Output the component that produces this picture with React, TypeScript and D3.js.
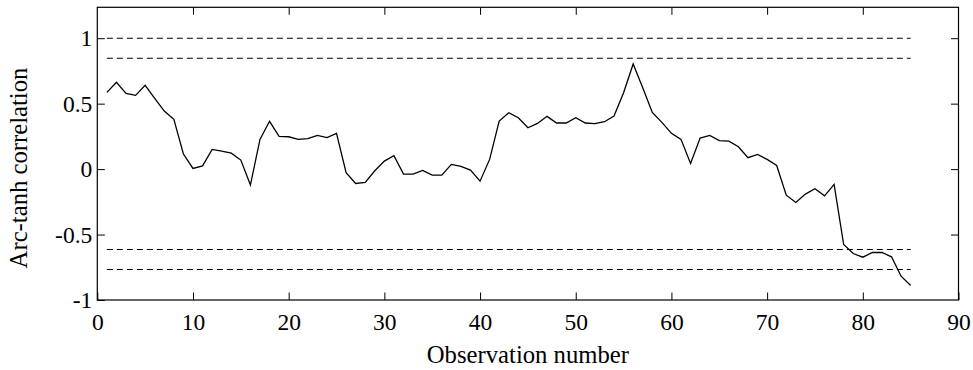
import React, { useRef, useEffect } from 'react';
import * as d3 from 'd3';

// observation numbers 1..85 and the arc-tanh correlation
const observations = d3.range(1, 86);
const correlation = [
  0.586, 0.663, 0.579, 0.563, 0.64, 0.54, 0.443, 0.38, 0.115, 0.005,
  0.025, 0.15, 0.138, 0.122, 0.069, -0.122, 0.227, 0.365, 0.25, 0.247,
  0.227, 0.232, 0.257, 0.24, 0.273, -0.028, -0.11, -0.102, -0.013, 0.061,
  0.102, -0.038, -0.038, -0.01, -0.046, -0.046, 0.036, 0.02, -0.008, -0.092,
  0.074, 0.367, 0.431, 0.392, 0.316, 0.349, 0.403, 0.352, 0.352, 0.392,
  0.352, 0.347, 0.362, 0.405, 0.584, 0.803, 0.622, 0.433, 0.357, 0.273,
  0.227, 0.043, 0.237, 0.257, 0.217, 0.214, 0.171, 0.087, 0.112, 0.074,
  0.028, -0.199, -0.255, -0.191, -0.15, -0.204, -0.117, -0.576, -0.645, -0.673,
  -0.637, -0.637, -0.67, -0.818, -0.889,
];
// dashed reference bounds
const bounds = [1.0, 0.847, -0.614, -0.767];
const xTicks = [0, 10, 20, 30, 40, 50, 60, 70, 80, 90];
const yTicks = [-1, -0.5, 0, 0.5, 1];
const yTickLabels = ['-1', '-0.5', '0', '0.5', '1'];

const App = () => {
  const svgRef = useRef<SVGSVGElement>(null);

  useEffect(() => {
    const width = 973;
    const height = 370;
    const left = 97.3;
    const right = 958.5;
    const top = 7.3;
    const bottom = 300;

    const svg = d3.select(svgRef.current);
    svg.selectAll('*').remove();
    svg.attr('width', width).attr('height', height);

    const x = d3.scaleLinear().domain([0, 90]).range([left, right]);
    const y = d3.scaleLinear().domain([-1, 1.236]).range([bottom, top]);

    const font = '"Liberation Serif", "Times New Roman", serif';

    // bottom axis with labels
    const xAxis = svg
      .append('g')
      .attr('transform', `translate(0,${bottom})`)
      .call(d3.axisBottom(x).tickValues(xTicks).tickSize(-7.5).tickPadding(13.5));
    // left axis with labels
    const yAxis = svg
      .append('g')
      .attr('transform', `translate(${left},0)`)
      .call(
        d3
          .axisLeft(y)
          .tickValues(yTicks)
          .tickSize(-7.5)
          .tickPadding(5)
          .tickFormat((d, i) => yTickLabels[i])
      );
    // top and right: ticks only
    const xTop = svg
      .append('g')
      .attr('transform', `translate(0,${top})`)
      .call(d3.axisTop(x).tickValues(xTicks.slice(1, -1)).tickSize(-7.5).tickFormat(() => ''));
    const yRight = svg
      .append('g')
      .attr('transform', `translate(${right},0)`)
      .call(d3.axisRight(y).tickValues(yTicks.slice(1)).tickSize(-7.5).tickFormat(() => ''));

    [xAxis, yAxis, xTop, yRight].forEach(g => {
      g.select('.domain').remove();
      g.selectAll('line').attr('stroke', '#000').attr('stroke-width', 1);
      g.selectAll('text')
        .attr('font-family', font)
        .attr('font-size', 23.5)
        .attr('fill', '#000');
    });

    // frame
    svg
      .append('rect')
      .attr('x', left)
      .attr('y', top)
      .attr('width', right - left)
      .attr('height', bottom - top)
      .attr('fill', 'none')
      .attr('stroke', '#000')
      .attr('stroke-width', 1.2);

    // dashed bounds
    svg
      .append('g')
      .selectAll('line')
      .data(bounds)
      .enter()
      .append('line')
      .attr('x1', x(1))
      .attr('x2', x(85))
      .attr('y1', d => y(d))
      .attr('y2', d => y(d))
      .attr('stroke', '#000')
      .attr('stroke-width', 1.1)
      .attr('stroke-dasharray', '6,4');

    // correlation line
    const line = d3
      .line<number>()
      .x((d, i) => x(observations[i]))
      .y(d => y(d));
    svg
      .append('path')
      .datum(correlation)
      .attr('d', line)
      .attr('fill', 'none')
      .attr('stroke', '#000')
      .attr('stroke-width', 1.3)
      .attr('stroke-linejoin', 'miter');

    // axis titles
    svg
      .append('text')
      .attr('x', (left + right) / 2)
      .attr('y', 363)
      .attr('text-anchor', 'middle')
      .attr('font-family', font)
      .attr('font-size', 24.7)
      .text('Observation number');

    svg
      .append('text')
      .attr('transform', `translate(27,168) rotate(-90)`)
      .attr('text-anchor', 'middle')
      .attr('font-family', font)
      .attr('font-size', 24.7)
      .text('Arc-tanh correlation');
  }, []);

  return (
    <svg
      ref={svgRef}
      style={{ position: 'absolute', left: 0, top: 0, background: '#fff' }}
    ></svg>
  );
};

export default App;
